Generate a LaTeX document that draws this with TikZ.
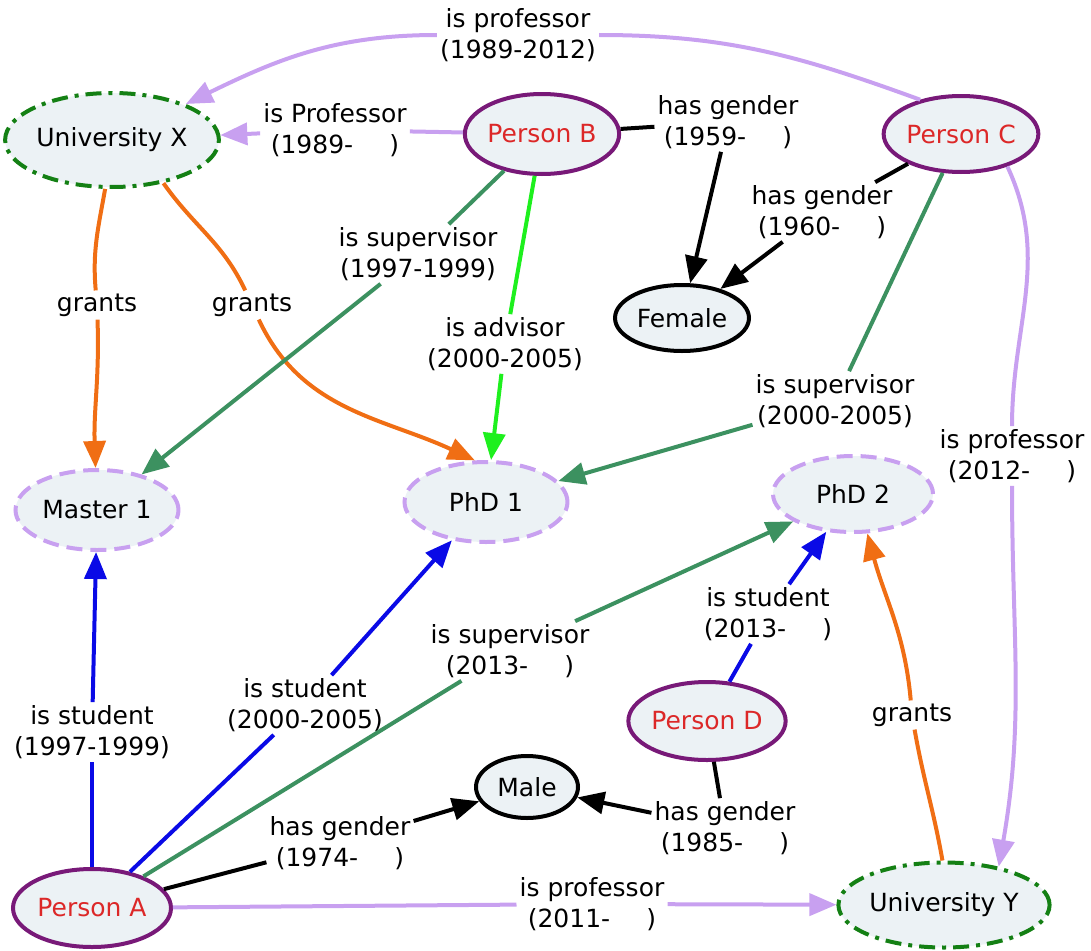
\documentclass[tikz,border=0pt]{standalone}
\usepackage{fontspec}
\setmainfont{DejaVu Sans}
\usetikzlibrary{shapes.geometric,arrows.meta}
\definecolor{lpurp}{RGB}{200,160,240}
\definecolor{purp}{RGB}{120,25,120}
\definecolor{redtxt}{RGB}{220,40,40}
\definecolor{nfill}{RGB}{236,242,245}
\definecolor{ugreen}{RGB}{20,128,20}
\definecolor{dgreen}{RGB}{60,145,96}
\definecolor{lgreen}{RGB}{30,240,30}
\definecolor{eblue}{RGB}{10,10,230}
\definecolor{eorange}{RGB}{240,110,20}
\newcommand{\gp}{\hspace{1.45em}}
\begin{document}
\begin{tikzpicture}[x=1pt,y=1pt,
  nd/.style={ellipse, fill=nfill, line width=4pt, inner sep=0pt, font=\fontsize{25}{30}\selectfont},
  person/.style={nd, draw=purp, text=redtxt},
  univ/.style={nd, draw=ugreen, dash pattern=on 16pt off 7pt on 4pt off 7pt},
  deg/.style={nd, draw=lpurp, dash pattern=on 16pt off 8pt},
  gen/.style={nd, draw=black},
  lab/.style={fill=white, align=center, inner sep=3pt, font=\fontsize{25}{31}\selectfont},
  con/.style={line width=4pt},
  arr/.style={-{Triangle[length=27pt,width=22pt]}},
  lp/.style={con, draw=lpurp},
  blk/.style={con, draw=black},
  org/.style={con, draw=eorange},
  dg/.style={con, draw=dgreen},
  lg/.style={con, draw=lgreen},
  bl/.style={con, draw=eblue}]
\useasboundingbox (0,0) rectangle (1091,-950);
% nodes
\node[univ, minimum width=195pt, minimum height=94pt] (ux) at (112,-140) {University X};
\node[person, minimum width=152pt, minimum height=80pt] (pb) at (542,-134) {Person B};
\node[person, minimum width=152pt, minimum height=76pt] (pc) at (961,-134) {Person C};
\node[gen, minimum width=134pt, minimum height=66pt] (fe) at (682,-318) {Female};
\node[deg, minimum width=163pt, minimum height=80pt] (m1) at (97,-510) {Master 1};
\node[deg, minimum width=163pt, minimum height=80pt] (p1) at (486,-502) {PhD 1};
\node[deg, minimum width=160pt, minimum height=76pt] (p2) at (853,-494) {PhD 2};
\node[person, minimum width=140pt, minimum height=78pt] (pd) at (707,-721) {Person D};
\node[gen, minimum width=102pt, minimum height=62pt] (ma) at (527,-787) {Male};
\node[person, minimum width=158pt, minimum height=78pt] (pa) at (92,-908) {Person A};
\node[univ, minimum width=198pt, minimum height=85pt] (uy) at (944,-905) {University Y};
% labels
\node[lab] (l1) at (518,-35) {is professor\\(1989-2012)};
\node[lab] (l2) at (335,-130) {is Professor\\(1989-\gp)};
\node[lab] (l3) at (728,-122) {has gender\\(1959-\gp)};
\node[lab] (l4) at (822,-212) {has gender\\(1960-\gp)};
\node[lab] (l5) at (97,-305) {grants};
\node[lab] (l6) at (252,-305) {grants};
\node[lab] (l7) at (418,-254) {is supervisor\\(1997-1999)};
\node[lab] (l8) at (505,-344) {is advisor\\(2000-2005)};
\node[lab] (l9) at (835,-401) {is supervisor\\(2000-2005)};
\node[lab] (l10) at (1012,-456) {is professor\\(2012-\gp)};
\node[lab] (l11) at (92,-732) {is student\\(1997-1999)};
\node[lab] (l12) at (305,-705) {is student\\(2000-2005)};
\node[lab] (l13) at (510,-651) {is supervisor\\(2013-\gp)};
\node[lab] (l14) at (768,-614) {is student\\(2013-\gp)};
\node[lab] (l15) at (340,-843) {has gender\\(1974-\gp)};
\node[lab] (l16) at (725,-828) {has gender\\(1985-\gp)};
\node[lab] (l17) at (592,-904) {is professor\\(2011-\gp)};
\node[lab] (l18) at (912,-715) {grants};
% edges
\draw[lp] (pc.140) to[out=160,in=0] (l1);
\draw[lp,arr] (l1) to[out=180,in=26] (ux);
\draw[lp] (pb) -- (l2);
\draw[lp,arr] (l2) -- (ux);
\draw[blk] (pb) -- (l3);
\draw[blk,arr] (l3) -- (fe);
\draw[blk] (pc) -- (l4);
\draw[blk,arr] (l4) -- (fe);
\draw[org] (ux.262) to[out=-100,in=95] (l5);
\draw[org,arr] (l5) to[out=-88,in=92] (m1);
\draw[org] (ux.-40) to[out=-55,in=115] (l6);
\draw[org,arr] (l6) to[out=-65,in=155] (p1.105);
\draw[dg] (pb) -- (l7);
\draw[dg,arr] (l7) -- (m1);
\draw[lg] (pb) -- (l8);
\draw[lg,arr] (l8) -- (p1);
\draw[dg] (pc) -- (l9);
\draw[dg,arr] (l9) -- (p1);
\draw[lp] (pc.-35) to[out=-65,in=90] (l10);
\draw[lp,arr] (l10) to[out=-90,in=80] (uy.35);
\draw[bl] (pa) -- (l11);
\draw[bl,arr] (l11) -- (m1);
\draw[bl] (pa) -- (l12);
\draw[bl,arr] (l12) -- (p1);
\draw[dg] (pa) -- (l13);
\draw[dg,arr] (l13) -- (p2);
\draw[bl] (pd) -- (l14);
\draw[bl,arr] (l14) -- (p2);
\draw[blk] (pa) -- (l15);
\draw[blk,arr] (l15) -- (ma);
\draw[blk] (pd) -- (l16);
\draw[blk,arr] (l16) -- (ma);
\draw[lp] (pa) -- (l17);
\draw[lp,arr] (l17) -- (uy);
\draw[org] (uy.92) to[out=100,in=-80] (l18);
\draw[org,arr] (l18) to[out=95,in=-75] (p2.-70);
\end{tikzpicture}
\end{document}
